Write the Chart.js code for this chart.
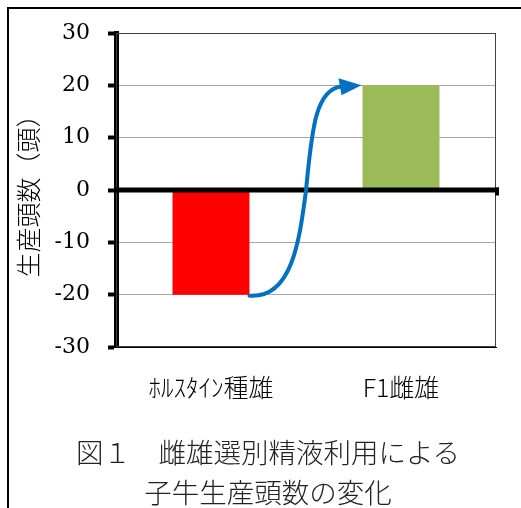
<!DOCTYPE html>
<html>
<head>
<meta charset="utf-8">
<script src="https://cdn.jsdelivr.net/npm/chart.js@4/dist/chart.umd.min.js"></script>
<style>
  body { margin: 0; background: #fff; overflow: hidden; }
  #wrap { position: relative; width: 521px; height: 508px; }
  #frame { position: absolute; left: 7px; top: 7px; right: -10px; bottom: -10px;
           border-left: 2px solid #000; border-top: 2px solid #000; pointer-events: none; }
  #caption { position: absolute; left: 0; width: 536px; top: 431px; text-align: center;
             font-family: "Noto Sans CJK JP", sans-serif; font-weight: 300; font-size: 27.5px;
             line-height: 40px; color: #222; }
</style>
</head>
<body>
<div id="wrap">
  <canvas id="chart"></canvas>
  <div id="frame"></div>
  <div id="caption">図１　雌雄選別精液利用による<br>子牛生産頭数の変化</div>
</div>
<script>
// ===== chart data =====
const categories = ['ﾎﾙｽﾀｲﾝ種雄', 'F1雌雄'];
const headChange = [-20, 20];
const barColors = ['#FF0000', '#9BBB59'];
const yTicks = [-30, -20, -10, 0, 10, 20, 30];
const yTitle = '生産頭数（頭）';

// Plot border, zero line and the blue S-arrow between the two bars
const overlayPlugin = {
    id: 'overlay',
    beforeDatasetsDraw(chart) {
        const { ctx, chartArea: a } = chart;
        ctx.save();
        ctx.strokeStyle = '#404040';
        ctx.lineWidth = 1;
        ctx.strokeRect(a.left + 0.5, a.top + 0.5, a.width - 1, a.height - 1);
        ctx.restore();
    },
    afterDatasetsDraw(chart) {
        const { ctx, chartArea: a } = chart;
        const y0 = chart.scales.y.getPixelForValue(0);
        ctx.save();
        ctx.fillStyle = '#000';
        ctx.fillRect(a.left, y0 - 2.5, a.width + 3, 5);
        ctx.fillRect(a.right - 1, y0 - 2.5, 4, 8);

        const bars = chart.getDatasetMeta(0).data;
        const x1 = bars[0].x + bars[0].width / 2;
        const y1 = bars[0].y + 1;
        const x2 = bars[1].x - bars[1].width / 2;
        const y2 = bars[1].y;
        const dx = x2 - x1, dy = y1 - y2;
        const xm = x1 + dx * 0.5, ym = y1 - dy * 0.5;

        ctx.strokeStyle = '#0070C0';
        ctx.fillStyle = '#0070C0';
        ctx.lineWidth = 4;
        ctx.lineCap = 'round';
        ctx.beginPath();
        ctx.moveTo(x1, y1);
        ctx.bezierCurveTo(x1 + dx * 0.37, y1 + 3, x1 + dx * 0.44, y1 - dy * 0.25, xm, ym);
        ctx.bezierCurveTo(x1 + dx * 0.55, y1 - dy * 0.78, x1 + dx * 0.58, y2 + 3, x2 - 20, y2 + 1);
        ctx.stroke();

        // arrow head
        ctx.beginPath();
        ctx.moveTo(x2 - 1, y2);
        ctx.lineTo(x2 - 24, y2 - 7);
        ctx.lineTo(x2 - 21, y2 + 10);
        ctx.closePath();
        ctx.fill();
        ctx.restore();
    }
};

const ctx = document.getElementById('chart');
new Chart(ctx, {
    type: 'bar',
    data: {
        labels: categories,
        datasets: [{
            data: headChange,
            backgroundColor: barColors,
            borderWidth: 0,
            barPercentage: 0.405,
            categoryPercentage: 1
        }]
    },
    options: {
        responsive: true,
        maintainAspectRatio: false,
        animation: false,
        layout: { padding: { left: 0, top: 33, right: 25, bottom: 0 } },
        plugins: {
            legend: { display: false },
            tooltip: { enabled: false }
        },
        scales: {
            x: {
                grid: { display: false },
                border: { display: true, color: '#000', width: 1 },
                ticks: {
                    color: '#000',
                    padding: 17,
                    maxRotation: 0,
                    font: { family: '"Noto Sans CJK JP", sans-serif', size: 25, weight: '300' }
                },
                afterFit(scale) { scale.height = 161; }
            },
            y: {
                min: yTicks[0],
                max: yTicks[yTicks.length - 1],
                afterBuildTicks(scale) { scale.ticks = yTicks.map(v => ({ value: v })); },
                grid: {
                    color: c => (c.tick && c.tick.value === 0) ? 'rgba(0,0,0,0)' : '#A6A6A6',
                    lineWidth: 1,
                    tickColor: '#000',
                    tickWidth: 4,
                    tickLength: 8
                },
                border: { display: true, color: '#000', width: 5 },
                ticks: {
                    color: '#000',
                    padding: 18,
                    font: { family: '"DejaVu Serif", serif', size: 22 }
                },
                title: {
                    display: true,
                    text: yTitle,
                    color: '#000',
                    padding: { top: 16, bottom: 0 },
                    font: { family: '"Noto Sans CJK JP", sans-serif', size: 25, weight: '300', lineHeight: 1 }
                },
                afterFit(scale) { scale.width = 116; }
            }
        }
    },
    plugins: [overlayPlugin]
});
</script>
</body>
</html>
